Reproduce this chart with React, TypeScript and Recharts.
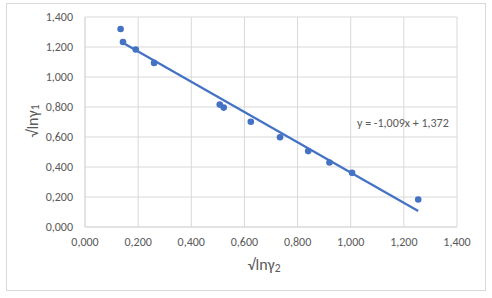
import {
  CartesianGrid,
  ReferenceLine,
  Scatter,
  ScatterChart,
  XAxis,
  YAxis,
} from 'recharts';

const xValues = [0.134, 0.143, 0.191, 0.26, 0.507, 0.522, 0.624, 0.734, 0.84, 0.92, 1.005, 1.254];
const yValues = [1.32, 1.233, 1.183, 1.094, 0.816, 0.796, 0.702, 0.598, 0.506, 0.43, 0.361, 0.183];
const axisTicks = [0, 0.2, 0.4, 0.6, 0.8, 1.0, 1.2, 1.4];

// linear trendline reported by the spreadsheet
const slope = -1.009;
const intercept = 1.372;

const points = xValues.map((x, i) => ({ x, y: yValues[i] }));
const xMin = Math.min(...xValues);
const xMax = Math.max(...xValues);

const fmt = (v: number) => v.toFixed(3).replace('.', ',');
const font = "Calibri, Carlito, 'Liberation Sans', Arial, sans-serif";
const tick = { fill: '#595959', fontSize: 12, fontFamily: font };
const blue = '#4472C4';
const grid = '#d9d9d9';

export default function App() {
  return (
    <div style={{ position: 'absolute', left: 0, top: 0, width: 492, height: 298, background: '#fff' }}>
      <div
        style={{
          position: 'absolute',
          left: 6,
          top: 3,
          width: 478,
          height: 286,
          border: `1px solid ${grid}`,
        }}
      />
      <ScatterChart width={492} height={298} margin={{ top: 17, right: 35, bottom: 21, left: 0 }}>
        <CartesianGrid stroke={grid} />
        <XAxis
          type="number"
          dataKey="x"
          domain={[0, 1.4]}
          ticks={axisTicks}
          tickFormatter={fmt}
          tick={tick}
          tickLine={false}
          tickSize={0}
          tickMargin={10}
          axisLine={{ stroke: grid }}
          height={50}
        />
        <YAxis
          type="number"
          dataKey="y"
          domain={[0, 1.4]}
          ticks={axisTicks}
          tickFormatter={fmt}
          tick={tick}
          tickLine={false}
          tickSize={0}
          tickMargin={12}
          axisLine={{ stroke: grid }}
          width={85}
        />
        <ReferenceLine
          segment={[
            { x: xMin, y: slope * xMin + intercept },
            { x: xMax, y: slope * xMax + intercept },
          ]}
          stroke={blue}
          strokeWidth={2.25}
        />
        <Scatter data={points} fill={blue} isAnimationActive={false} shape={(p: any) => <circle cx={p.cx} cy={p.cy} r={3.3} fill={blue} />} />
        <text
          x={32}
          y={121}
          transform="rotate(-90 32 121)"
          textAnchor="middle"
          dominantBaseline="central"
          fill="#595959"
          fontSize={16}
          fontFamily={font}
        >
          √lnγ<tspan fontSize={11.5} dy={3}>1</tspan>
        </text>
        <text x={264} y={270} textAnchor="middle" fill="#595959" fontSize={16} fontFamily={font}>
          √lnγ<tspan fontSize={11.5} dy={2}>2</tspan>
        </text>
        <text x={357} y={127} fill="#595959" fontSize={12} fontFamily={font}>
          y = -1,009x + 1,372
        </text>
      </ScatterChart>
    </div>
  );
}
